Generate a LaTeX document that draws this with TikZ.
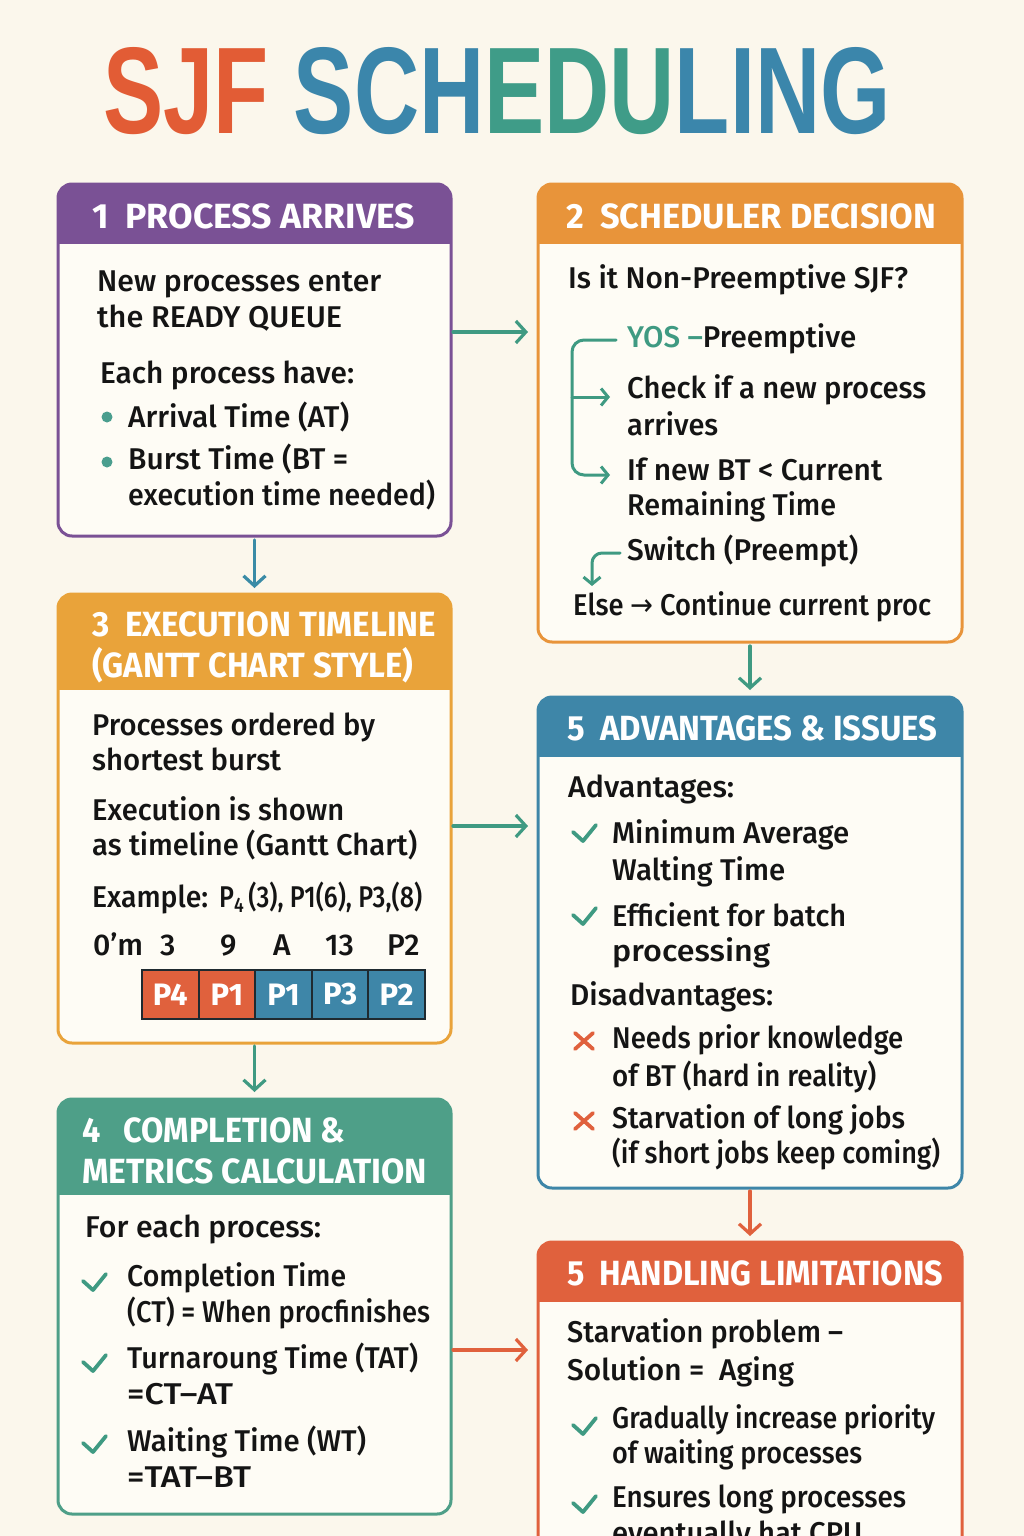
\documentclass[tikz,border=0pt]{standalone}
\usepackage{fontspec}
\setmainfont{Fira Sans}[UprightFont={* Medium},BoldFont={* Bold}]
\newfontfamily\ttlf{Liberation Sans}
\newfontfamily\djv{DejaVu Sans}
\usetikzlibrary{arrows.meta}
\definecolor{bg}{HTML}{FBF7EC}
\definecolor{bodyfill}{HTML}{FEFCF5}
\definecolor{cpur}{HTML}{7A5195}
\definecolor{cora}{HTML}{E8943A}
\definecolor{cyel}{HTML}{E9A33A}
\definecolor{cgrn}{HTML}{4E9F88}
\definecolor{cblu}{HTML}{3E86A8}
\definecolor{cred}{HTML}{E0613D}
\definecolor{ink}{HTML}{141414}
\definecolor{tred}{HTML}{E25C35}
\definecolor{tblu}{HTML}{3B86AB}
\definecolor{tgrn}{HTML}{3F9C88}
\definecolor{agrn}{HTML}{3F9A82}
\definecolor{ablu}{HTML}{3A8BA6}
\definecolor{dotc}{HTML}{4A9E8E}
\definecolor{gborder}{HTML}{1F2A30}
\tikzset{
  x=1pt,y=-1pt,
  sbox/.style={draw, line width=3pt, rounded corners=14pt, fill=bodyfill, inner sep=0pt, outer sep=0pt},
  txt/.style={anchor=base west, inner sep=0pt, text=ink, font=\fontsize{30}{36}\selectfont},
  hd/.style={anchor=base west, inner sep=0pt, text=white, font=\fontsize{35}{40}\selectfont\bfseries},
  arr/.style={line width=3.2pt, -{Straight Barb[length=10pt,width=22pt]}, line cap=round},
  sarr/.style={line width=3pt, draw=agrn, -{Straight Barb[length=7pt,width=17pt]}, line cap=round},
  chkm/.style={draw=agrn, line width=3.8pt, line cap=round, line join=round},
  crsm/.style={draw=cred, line width=3.8pt, line cap=round},
  gcell/.style={draw=gborder, line width=2pt, minimum width=56.6pt, minimum height=49pt, inner sep=0pt, text=white, font=\fontsize{31}{36}\selectfont\bfseries},
}
\newcounter{bln}
\newcommand\bl[3]{\stepcounter{bln}\node[txt] (bl\arabic{bln}) at (#1,#2) {#3};}
\newcommand\blw[4]{\stepcounter{bln}\node[txt] (bl\arabic{bln}) at (#1,#2) {\resizebox{#3pt}{\height}{#4}};}
\newcommand\hdt[5]{\node[hd] (#1) at (#2,#3) {\resizebox{#4pt}{\height}{#5}};}
\newcommand\sjfbox[7]{%
  \node[sbox, draw=#7, minimum width={(#4)-(#2)}, minimum height={(#5)-(#3)}] (#1) at ({((#2)+(#4))/2},{((#3)+(#5))/2}) {};
  \begin{scope}
    \clip[rounded corners=14pt] (#2,#3) rectangle (#4,#5);
    \fill[#7] (#2,#3) rectangle (#4,#6);
  \end{scope}}
\newcommand\chk[2]{\draw[chkm] ({#1-10},{#2-9}) -- (#1,#2) -- ({#1+13},{#2-16});}
\newcommand\crs[2]{\draw[crsm] ({#1-9},{#2-8}) -- ({#1+9},{#2+8}) ({#1-9},{#2+8}) -- ({#1+9},{#2-8});}
\begin{document}
\begin{tikzpicture}
\useasboundingbox (0,0) rectangle (1024,1536);
\clip (0,0) rectangle (1024,1536);
\fill[bg] (0,0) rectangle (1024,1536);

% title
\node[anchor=base west, inner sep=0pt] (title) at (103,133)
  {\resizebox{787pt}{86pt}{\ttlf\bfseries\color{tred}SJF \color{tblu}SCH\color{tgrn}EDU\color{tblu}LING}};

% boxes
\sjfbox{b1}{58}{184}{451}{536}{244}{cpur}
\sjfbox{b2}{538}{184}{962}{642}{244}{cora}
\sjfbox{b3}{58}{594}{451}{1043}{690}{cyel}
\sjfbox{b4}{58}{1099}{451}{1514}{1195}{cgrn}
\sjfbox{b5}{538}{697}{962}{1188}{757}{cblu}
\sjfbox{b6}{538}{1242}{962}{1600}{1302}{cred}

% headers
\hdt{h1}{92}{228}{323}{1\ \ PROCESS ARRIVES}
\hdt{h2}{566}{228}{370}{2\ \ SCHEDULER DECISION}
\hdt{h3a}{92}{636}{344}{3\ \ EXECUTION TIMELINE}
\hdt{h3b}{92}{677}{321}{(GANTT CHART STYLE)}
\hdt{h4a}{82}{1142}{263}{4\ \ \ COMPLETION \&}
\hdt{h4b}{82}{1183}{345}{METRICS CALCULATION}
\hdt{h5}{567}{740}{370}{5\ \ ADVANTAGES \& ISSUES}
\hdt{h6}{567}{1285}{376}{5\ \ HANDLING LIMITATIONS}

% connectors
\draw[arr, agrn, shorten >=10pt, shorten <=2pt] (b1.east |- 0,332) -- (b2.west |- 0,332);
\draw[arr, ablu, shorten >=6pt, shorten <=4pt] (b1.south) -- (b3.north);
\draw[arr, agrn, shorten >=10pt, shorten <=2pt] (b3.east |- 0,826) -- (b5.west |- 0,826);
\draw[arr, agrn, shorten >=7pt, shorten <=3pt] (b3.south) -- (b4.north);
\draw[arr, agrn, shorten >=7pt, shorten <=4pt] (b2.south) -- (b5.north);
\draw[arr, cred, shorten >=6pt, shorten <=3pt] (b5.south) -- (b6.north);
\draw[arr, cred, shorten >=10pt, shorten <=2pt] (b4.east |- 0,1350) -- (b6.west |- 0,1350);

% box 1
\blw{97}{291}{284}{New processes enter}
\blw{97}{327}{245}{the READY QUEUE}
\blw{100}{383}{254}{Each process have:}
\fill[dotc] (107,417) circle (5.5pt);
\fill[dotc] (107,462) circle (5.5pt);
\blw{128}{427}{221}{Arrival Time (AT)}
\blw{128}{469}{220}{Burst Time (BT =}
\blw{128}{505}{307}{execution time needed)}

% box 2
\blw{568}{288}{340}{Is it Non-Preemptive SJF?}
\blw{627}{347}{229}{\textcolor{agrn}{YOS –}Preemptive}
\blw{627}{398}{299}{Check if a new process}
\blw{627}{435}{91}{arrives}
\blw{627}{480}{255}{If new BT < Current}
\blw{627}{515}{209}{Remaining Time}
\blw{627}{560}{231}{Switch (Preempt)}
\blw{573}{615}{358}{Else {\djv →} Continue current proc}
\coordinate (k1) at (616,340);
\coordinate (k2) at (610,475);
\coordinate (k3) at (572,397);
\coordinate (k4) at (610,397);
\coordinate (k5) at (620,553);
\coordinate (k6) at (592,586);
\draw[sarr, rounded corners=12pt] (k1) -| (k3 |- k2) -- (k2);
\draw[sarr] (k3) -- (k4);
\draw[sarr, rounded corners=10pt] (k5) -| (k6);

% box 3
\blw{92}{735}{283}{Processes ordered by}
\blw{92}{770}{189}{shortest burst}
\blw{92}{820}{252}{Execution is shown}
\blw{92}{855}{325}{as timeline (Gantt Chart)}
\blw{92}{907}{116}{Example:}
\node[txt] (ex) at (219,907) {\resizebox{203pt}{\height}{P\textsubscript{4}\,(3), P1(6), P3,(8)}};
\blw{93}{955}{50}{0’m}
\bl{160}{955}{3}
\bl{220}{955}{9}
\bl{273}{955}{A}
\bl{325}{955}{13}
\bl{387}{955}{P2}
\node[gcell, fill=cred] (g1) at (170.3,994.5) {P4};
\node[gcell, fill=cred] (g2) at (226.9,994.5) {P1};
\node[gcell, fill=cblu] (g3) at (283.5,994.5) {P1};
\node[gcell, fill=cblu] (g4) at (340.1,994.5) {P3};
\node[gcell, fill=cblu] (g5) at (396.7,994.5) {P2};

% box 4
\blw{85}{1237}{236}{For each process:}
\chk{93}{1290}
\blw{127}{1286}{219}{Completion Time}
\blw{127}{1322}{303}{(CT) = When procfinishes}
\chk{93}{1371}
\blw{127}{1368}{291}{Turnaroung Time (TAT)}
\blw{127}{1404}{106}{=CT–AT}
\chk{93}{1452}
\blw{127}{1451}{239}{Waiting Time (WT)}
\blw{127}{1487}{124}{=TAT–BT}

% box 5
\blw{568}{797}{166}{Advantages:}
\chk{583}{841}
\blw{612}{843}{237}{Minimum Average}
\blw{612}{880}{173}{Walting Time}
\chk{583}{924}
\blw{612}{926}{234}{Efficient for batch}
\blw{612}{961}{158}{processing}
\blw{570}{1005}{203}{Disadvantages:}
\crs{584}{1041}
\blw{612}{1048}{291}{Needs prior knowledge}
\blw{612}{1086}{264}{of BT (hard in reality)}
\crs{584}{1121}
\blw{612}{1128}{293}{Starvation of long jobs}
\blw{612}{1163}{328}{(if short jobs keep coming)}

% box 6
\blw{567}{1342}{276}{Starvation problem –}
\blw{567}{1380}{227}{Solution = \ Aging}
\chk{583}{1434}
\blw{612}{1428}{323}{Gradually increase priority}
\blw{612}{1463}{250}{of waiting processes}
\chk{583}{1512}
\blw{612}{1507}{294}{Ensures long processes}
\blw{612}{1543}{250}{eventually hat CPU}
\end{tikzpicture}
\end{document}
